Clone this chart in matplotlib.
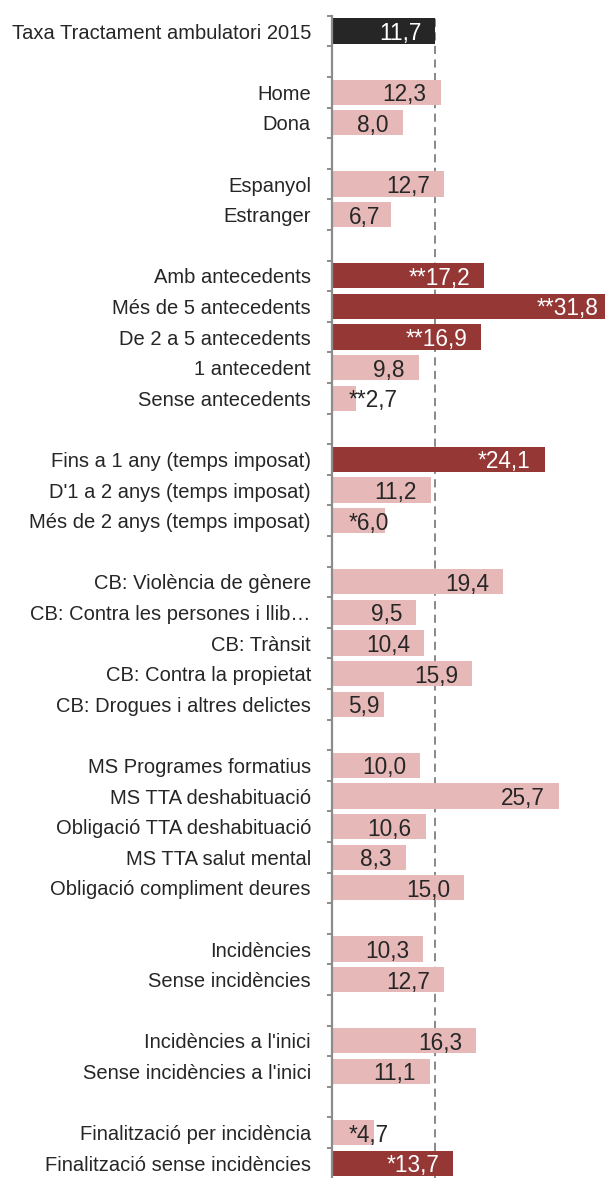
import numpy as np
import matplotlib
matplotlib.use("Agg")
import matplotlib.pyplot as plt
from matplotlib.ticker import FixedLocator

nan = np.nan
categories = [
    "Taxa Tractament ambulatori 2015", "",
    "Home", "Dona", "",
    "Espanyol", "Estranger", "",
    "Amb antecedents", "Més de 5 antecedents", "De 2 a 5 antecedents",
    "1 antecedent", "Sense antecedents", "",
    "Fins a 1 any (temps imposat)", "D'1 a 2 anys (temps imposat)",
    "Més de 2 anys (temps imposat)", "",
    "CB: Violència de gènere", "CB: Contra les persones i llib…", "CB: Trànsit",
    "CB: Contra la propietat", "CB: Drogues i altres delictes", "",
    "MS Programes formatius", "MS TTA deshabituació", "Obligació TTA deshabituació",
    "MS TTA salut mental", "Obligació compliment deures", "",
    "Incidències", "Sense incidències", "",
    "Incidències a l'inici", "Sense incidències a l'inici", "",
    "Finalització per incidència", "Finalització sense incidències",
]
values = [
    11.7, nan,
    12.3, 8.0, nan,
    12.7, 6.7, nan,
    17.2, 31.8, 16.9, 9.8, 2.7, nan,
    24.1, 11.2, 6.0, nan,
    19.4, 9.5, 10.4, 15.9, 5.9, nan,
    10.0, 25.7, 10.6, 8.3, 15.0, nan,
    10.3, 12.7, nan,
    16.3, 11.1, nan,
    4.7, 13.7,
]
significance = [
    "", "",
    "", "", "",
    "", "", "",
    "**", "**", "**", "", "**", "",
    "*", "", "*", "",
    "", "", "", "", "", "",
    "", "", "", "", "", "",
    "", "", "",
    "", "", "",
    "*", "*",
]
status = [
    "total", "",
    "ns", "ns", "",
    "ns", "ns", "",
    "high", "high", "high", "ns", "ns", "",
    "high", "ns", "ns", "",
    "ns", "ns", "ns", "ns", "ns", "",
    "ns", "ns", "ns", "ns", "ns", "",
    "ns", "ns", "",
    "ns", "ns", "",
    "ns", "high",
]
reference_rate = 11.7

colors = {"total": "#262626", "high": "#953735", "ns": "#E6B9B8", "": "none"}
text_colors = {"total": "white", "high": "white", "ns": "#262626", "": "none"}

plt.rcParams["font.family"] = ["Liberation Sans", "DejaVu Sans"]

W, H = 605, 1178
fig = plt.figure(figsize=(W / 100, H / 100), dpi=100)
ax_left = 332.5 / W
ax_top = 15.7 / H
ax = fig.add_axes([ax_left, 0, 1 - ax_left, 1 - ax_top])

n = len(categories)
y = np.arange(n)
row_px = 30.6
xmax = (W - 332.5) / 8.8
bottom_rows = (H - 15.7) / row_px - 0.5
ax.set_ylim(bottom_rows, -0.5)
ax.set_xlim(0, xmax)

vals = np.array(values, dtype=float)
bar_colors = [colors[s] for s in status]
ax.barh(y, np.nan_to_num(vals), height=0.83, color=bar_colors, zorder=3, clip_on=True)

ax.axvline(reference_rate, color="#7f7f7f", lw=1.3, ls=(0, (4.5, 3)), zorder=1)

for s in ["top", "right", "bottom"]:
    ax.spines[s].set_visible(False)
ax.spines["left"].set_color("#8c8c8c")
ax.spines["left"].set_linewidth(1.6)
ax.spines["left"].set_zorder(4)
ax.set_xticks([])

ax.set_yticks(y)
ax.set_yticklabels(categories, fontsize=14.5, color="#262626")
ax.tick_params(axis="y", which="major", length=0, pad=15.5)
ax.yaxis.set_minor_locator(FixedLocator(np.arange(-0.5, n, 1.0)))
ax.tick_params(axis="y", which="minor", length=3.8, width=1.4, color="#8c8c8c")

pad_units = 14 / 8.8
min_left = 16 / 8.8
fig.canvas.draw()
renderer = fig.canvas.get_renderer()
inv = ax.transData.inverted()
for i, (v, sig, st) in enumerate(zip(values, significance, status)):
    if np.isnan(v):
        continue
    label = sig + f"{v:.1f}".replace(".", ",")
    t = ax.text(v - pad_units, i, label, ha="right", va="center_baseline",
                fontsize=16.3, color=text_colors[st], zorder=5, clip_on=False)
    bb = t.get_window_extent(renderer)
    x0 = inv.transform((bb.x0, bb.y0))[0]
    if x0 < min_left:
        t.set_ha("left")
        t.set_x(min_left)
        t.set_color("#262626")

fig.savefig("out.png", dpi=100)
